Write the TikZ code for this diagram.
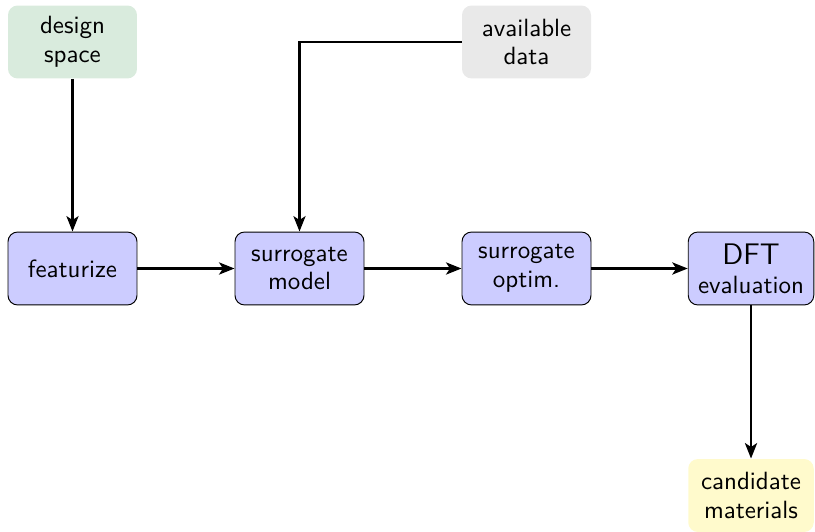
\documentclass[tikz,border=0pt]{standalone}
\usetikzlibrary{arrows.meta}
\definecolor{stepblue}{RGB}{204,204,255}
\definecolor{spacegreen}{RGB}{217,235,221}
\definecolor{datagray}{RGB}{233,233,233}
\definecolor{candyellow}{RGB}{255,250,204}
\begin{document}
\begin{tikzpicture}[x=0.4167pt,y=-0.4167pt,
  font=\sffamily\fontsize{10.4}{12}\selectfont,
  box/.style={rounded corners=4pt, align=center, minimum width=53.75pt,
    minimum height=30.4pt, inner sep=2pt},
  stepbox/.style={box, fill=stepblue, draw=black, line width=0.4pt},
  inbox/.style={box, fill=#1},
  flow/.style={line width=1.2pt, -{Stealth[length=6.4pt,width=5pt,inset=1.6pt]}}]
\useasboundingbox (0,0) rectangle (815,531);
% inputs
\node[inbox=spacegreen] (space) at (72.5,42) {design\\space};
\node[inbox=datagray] (data) at (526.5,42) {available\\data};
% processing chain
\node[stepbox] (feat) at (72.5,268.5) {featurize};
\node[stepbox] (model) at (299.5,268.5) {surrogate\\model};
\node[stepbox] (optim) at (526.5,268.5) {surrogate\\optim.};
\node[stepbox, minimum width=52.3pt] (dft) at (751,268.5) {{\fontsize{12.4}{12}\selectfont DFT}\\evaluation};
% output
\node[inbox=candyellow, minimum width=52.3pt] (cand) at (751,495.5) {candidate\\materials};
% connectors
\draw[flow] (space) -- (feat);
\draw[flow] (data.west) -| (model.north);
\draw[flow] (feat) -- (model);
\draw[flow] (model) -- (optim);
\draw[flow] (optim) -- (dft);
\draw[flow] (dft) -- (cand);
\end{tikzpicture}
\end{document}
